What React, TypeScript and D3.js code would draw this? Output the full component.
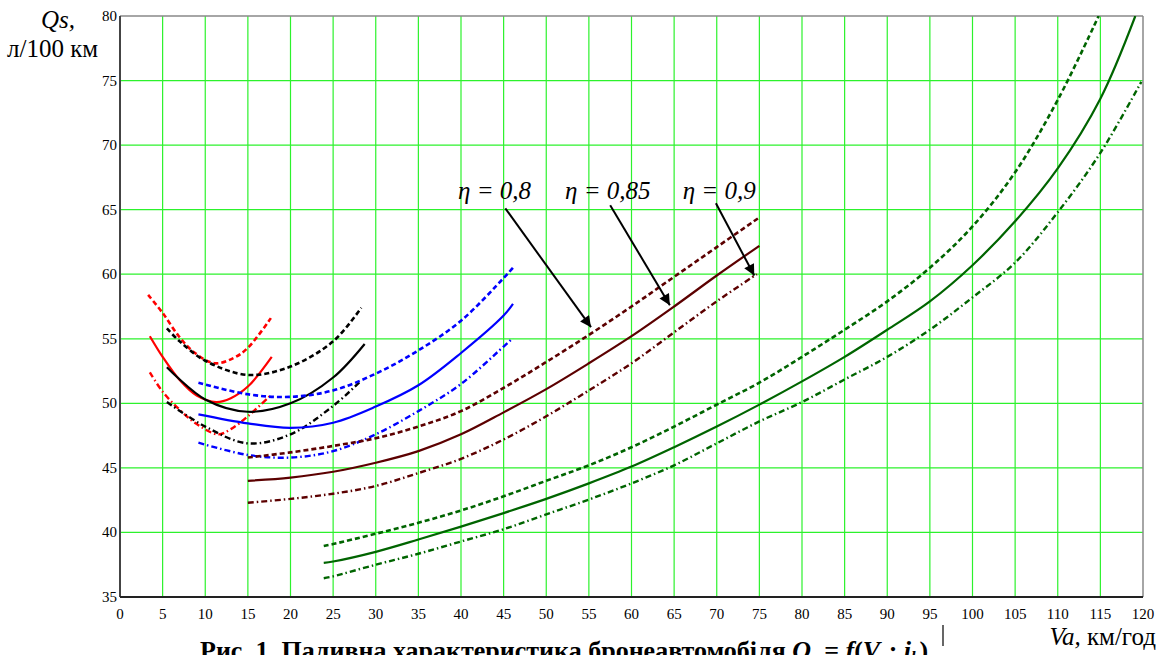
import React from "react";
import * as d3 from "d3";

// ---- data ----
const xTicks = d3.range(0, 121, 5);
const yTicks = d3.range(35, 81, 5);

type P = [number, number];
// gear 1 (red)
const red08: P[] = [[3.3, 58.4], [5, 57.0], [6.9, 55.2], [8.6, 54.0], [11.1, 53.1], [13.3, 53.5], [15, 54.3], [17.7, 56.6]];
const red085: P[] = [[3.5, 55.2], [5, 53.6], [7, 51.8], [9, 50.6], [11.3, 50.1], [13, 50.4], [15, 51.3], [17.8, 53.6]];
const red09: P[] = [[3.5, 52.4], [5, 50.9], [7, 49.5], [9, 48.4], [11.5, 47.6], [13, 48.0], [15, 49.0], [17.8, 50.7]];
// gear 2 (black)
const black08: P[] = [[5.5, 55.8], [7, 54.8], [10, 53.3], [15, 52.2], [20, 52.85], [25, 54.8], [28.3, 57.4]];
const black085: P[] = [[5.5, 52.8], [10, 50.3], [15, 49.35], [20, 50.0], [25, 52.0], [28.7, 54.6]];
const black09: P[] = [[5.5, 50.1], [10, 48.2], [15, 46.9], [20, 47.6], [25, 49.8], [28.2, 51.7]];
// gear 3 (blue)
const blue08: P[] = [[9.2, 51.6], [15, 50.7], [20, 50.5], [25, 51.0], [30, 52.3], [35, 54.1], [40, 56.4], [45, 59.7], [46.1, 60.5]];
const blue085: P[] = [[9.2, 49.15], [15, 48.45], [20, 48.1], [25, 48.5], [30, 49.75], [35, 51.4], [40, 53.9], [45, 56.8], [46.1, 57.7]];
const blue09: P[] = [[9.2, 46.95], [15, 46.0], [20, 45.8], [25, 46.3], [30, 47.6], [35, 49.4], [40, 51.5], [45, 54.4], [46.1, 55.05]];
// gear 4 (maroon)
const maroon08: P[] = [[15, 45.8], [20, 46.2], [25, 46.7], [30, 47.3], [35, 48.2], [40, 49.4], [45, 51.2], [50, 53.2], [55, 55.3], [60, 57.5], [65, 59.8], [70, 62.1], [75, 64.4]];
const maroon085: P[] = [[15, 44.0], [20, 44.25], [25, 44.7], [30, 45.4], [35, 46.3], [40, 47.6], [45, 49.3], [50, 51.1], [55, 53.1], [60, 55.2], [65, 57.5], [70, 59.9], [75, 62.2]];
const maroon09: P[] = [[15, 42.3], [20, 42.6], [25, 43.0], [30, 43.6], [35, 44.6], [40, 45.7], [45, 47.2], [50, 49.0], [55, 51.0], [60, 53.1], [65, 55.5], [70, 57.9], [74.7, 60.0]];
// gear 5 (green)
const green08: P[] = [[23.9, 38.95], [25, 39.1], [30, 39.9], [35, 40.75], [40, 41.7], [45, 42.8], [50, 44.0], [55, 45.2], [60, 46.6], [65, 48.2], [70, 49.9], [75, 51.6], [80, 53.6], [85, 55.7], [90, 57.9], [95, 60.5], [100, 63.7], [105, 67.9], [110, 73.5], [114.8, 80]];
const green085: P[] = [[23.9, 37.65], [25, 37.75], [30, 38.5], [35, 39.45], [40, 40.45], [45, 41.5], [50, 42.6], [55, 43.8], [60, 45.1], [65, 46.6], [70, 48.2], [75, 49.9], [80, 51.7], [85, 53.6], [90, 55.7], [95, 57.9], [100, 60.7], [105, 64.1], [110, 68.2], [115, 73.6], [119.1, 80]];
const green09: P[] = [[23.9, 36.45], [25, 36.6], [30, 37.5], [35, 38.35], [40, 39.3], [45, 40.25], [50, 41.4], [55, 42.55], [60, 43.8], [65, 45.2], [70, 46.9], [75, 48.6], [80, 50.1], [85, 51.85], [90, 53.6], [95, 55.7], [100, 58.2], [105, 60.9], [110, 64.8], [115, 69.4], [119.8, 74.9]];

const etaLabels = ["η = 0,8", "η = 0,85", "η = 0,9"];
const labelAnchors: P[] = [[39.65, 65.8], [52.2, 65.8], [66.0, 65.8]];
const arrowStarts: P[] = [[45.2, 65.1], [57.5, 65.35], [69.9, 65.5]];
const arrowTips: P[] = [[55.25, 55.9], [64.5, 57.6], [74.4, 59.9]];

const gearColors = ["#ff0000", "#000000", "#0000ff", "#5c0000", "#006400"];
const gearSeries: P[][][] = [
  [red08, red085, red09],
  [black08, black085, black09],
  [blue08, blue085, blue09],
  [maroon08, maroon085, maroon09],
  [green08, green085, green09],
];
const etaDash = ["5,3", "", "6,3,1.5,3"];
const etaWidth = [2.6, 2.2, 2.4];

// ---- layout ----
const W = 1162, H = 655;
const x = d3.scaleLinear().domain([0, 120]).range([120, 1143]);
const y = d3.scaleLinear().domain([35, 80]).range([597, 16]);
const serif = '"Times New Roman", "Liberation Serif", "DejaVu Serif", serif';

export default function App() {
  const line = d3.line<P>().x(d => x(d[0])).y(d => y(d[1])).curve(d3.curveCatmullRom.alpha(0.5));
  const [x0, x1] = x.range();
  const [yb, yt] = y.range();
  const tf = { fontFamily: serif };
  return (
    <svg width={W} height={H} style={{ position: "absolute", left: 0, top: 0, background: "#fff", fontFamily: serif }}>
      <defs>
        <clipPath id="plot"><rect x={x0} y={yt} width={x1 - x0} height={yb - yt} /></clipPath>
        <marker id="ah" viewBox="0 0 10 10" refX="10" refY="5" markerWidth="15" markerHeight="11" markerUnits="userSpaceOnUse" orient="auto">
          <path d="M0,0 L10,5 L0,10 z" fill="#000" />
        </marker>
      </defs>
      {/* grid */}
      {xTicks.filter(t => t > 0 && t < 120).map(t => (
        <line key={"gx" + t} x1={x(t)} x2={x(t)} y1={yt} y2={yb} stroke="#2cf22c" strokeWidth={1.2} />
      ))}
      {yTicks.filter(t => t > 35 && t < 80).map(t => (
        <line key={"gy" + t} x1={x0} x2={x1} y1={y(t)} y2={y(t)} stroke="#2cf22c" strokeWidth={1.2} />
      ))}
      {/* border */}
      <line x1={x0} x2={x1} y1={yt} y2={yt} stroke="#888" strokeWidth={1.5} />
      <line x1={x1} x2={x1} y1={yt} y2={yb} stroke="#888" strokeWidth={1.5} />
      <line x1={x0} x2={x0} y1={yt} y2={yb} stroke="#444" strokeWidth={2} />
      <line x1={x0} x2={x1} y1={yb} y2={yb} stroke="#222" strokeWidth={2} />
      {/* tick labels */}
      {xTicks.map(t => (
        <text key={"tx" + t} x={x(t)} y={619} fontSize={15} textAnchor="middle" fill="#000" style={tf}>{t}</text>
      ))}
      {yTicks.map(t => (
        <text key={"ty" + t} x={117} y={y(t) + 5} fontSize={15} textAnchor="end" fill="#000" style={tf}>{t}</text>
      ))}
      {/* curves */}
      <g clipPath="url(#plot)">
        {gearSeries.map((g, gi) =>
          g.map((s, ei) => (
            <path key={`c${gi}-${ei}`} d={line(s) || ""} fill="none" stroke={gearColors[gi]}
              strokeWidth={etaWidth[ei]} strokeDasharray={etaDash[ei] || undefined} />
          ))
        )}
      </g>
      {/* annotations */}
      {etaLabels.map((l, i) => (
        <text key={"el" + i} x={x(labelAnchors[i][0])} y={y(labelAnchors[i][1])} fontSize={25} fontStyle="italic" fill="#000" style={tf}>{l}</text>
      ))}
      {arrowStarts.map((s, i) => (
        <line key={"ar" + i} x1={x(s[0])} y1={y(s[1])} x2={x(arrowTips[i][0])} y2={y(arrowTips[i][1])}
          stroke="#000" strokeWidth={2} markerEnd="url(#ah)" />
      ))}
      {/* axis titles */}
      <text x={41} y={28} fontSize={25} fontStyle="italic" fill="#000" style={tf}>Qs,</text>
      <text x={7} y={57} fontSize={25} fill="#000" style={tf}>л/100 км</text>
      <text x={1156} y={645} fontSize={25} textAnchor="end" fill="#000" style={tf}><tspan fontStyle="italic">Va,</tspan> км/год</text>
      {/* caption (cut off by the frame, as in the reference) */}
      <text x={200} y={659} fontSize={26} fontWeight="bold" fill="#000" style={tf}>Рис. 1. Паливна характеристика бронеавтомобіля <tspan fontStyle="italic">Q</tspan><tspan fontStyle="italic" fontSize={17} dy={4}>s</tspan><tspan dy={-4}> = </tspan><tspan fontStyle="italic">f</tspan>(<tspan fontStyle="italic">V</tspan><tspan fontStyle="italic" fontSize={17} dy={4}>a</tspan><tspan dy={-4}>; </tspan><tspan fontStyle="italic">i</tspan><tspan fontStyle="italic" fontSize={17} dy={4}>k</tspan><tspan dy={-4}>)</tspan></text>
      <line x1={943} x2={943} y1={625} y2={646} stroke="#000" strokeWidth={1.2} />
    </svg>
  );
}
